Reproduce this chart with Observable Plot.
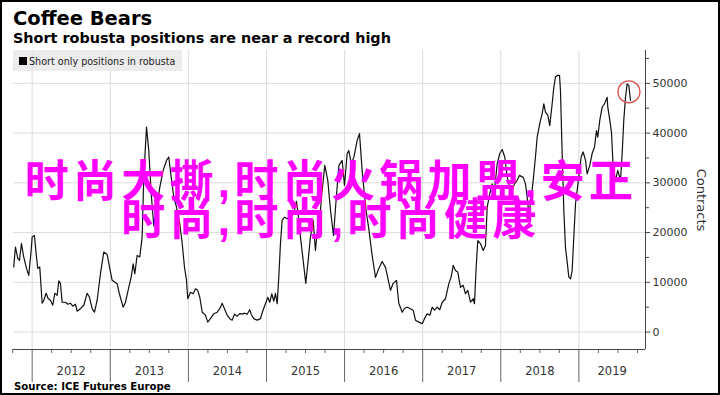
<!DOCTYPE html>
<html>
<head>
<meta charset="utf-8">
<script src="https://cdn.jsdelivr.net/npm/d3@7"></script>
<script src="https://cdn.jsdelivr.net/npm/@observablehq/plot@0.6"></script>
<style>
  html, body { margin: 0; padding: 0; background: #fff; }
  #wrap { position: relative; width: 720px; height: 395px; overflow: hidden; background: #fff; }
  #wrap .ov { position: absolute; white-space: nowrap; z-index: 5; }
  .title { left: 13px; top: 8.5px; font: bold 19.5px/1 "DejaVu Sans", Verdana, sans-serif; color: #000; }
  .subtitle { left: 13px; top: 30.8px; font: bold 14.4px/1 "DejaVu Sans", Verdana, sans-serif; color: #000; }
  .legend { left: 13px; top: 50px; width: 169px; height: 21px; background: rgba(230,230,230,0.75); }
  .legend .sw { position: absolute; left: 6px; top: 7px; width: 8px; height: 8px; background: #000; }
  .legend .lt { position: absolute; left: 16px; top: 7px; font: 9.6px/1 "DejaVu Sans", Verdana, sans-serif; color: #222; }
  .source { left: 14px; top: 382px; font: bold 10.2px/1 "DejaVu Sans", Verdana, sans-serif; color: #000; }
  .ylabel { left: 661px; top: 192px; width: 80px; height: 16px; text-align: center; font: 13px/16px "DejaVu Sans", Verdana, sans-serif; color: #333; transform: rotate(90deg); }
  .wm { left: 0px; width: 662px; text-align: center; font: bold 44px/38px "Liberation Sans", "Noto Sans CJK SC", sans-serif; letter-spacing: 4.3px; color: #ff00ff; z-index: 6; }
  .border { left: 0; top: 0; width: 720px; height: 395px; box-sizing: border-box; border: 2px solid #000; z-index: 10; }
</style>
</head>
<body>
<div id="wrap"></div>
<script>
// ---- Data (decimal year, short-only robusta contracts) ----
const dates = [
  2011.764, 2011.786, 2011.816, 2011.837, 2011.863, 2011.892, 2011.927, 2011.956, 2011.987, 2012.000,
  2012.029, 2012.055, 2012.072, 2012.097, 2012.128, 2012.149, 2012.179, 2012.205, 2012.234, 2012.264,
  2012.289, 2012.320, 2012.341, 2012.362, 2012.384, 2012.426, 2012.456, 2012.490, 2012.520, 2012.554,
  2012.576, 2012.618, 2012.661, 2012.704, 2012.734, 2012.768, 2012.798, 2012.832, 2012.875, 2012.917,
  2012.960, 2012.990, 2013.024, 2013.088, 2013.122, 2013.165, 2013.195, 2013.237, 2013.268, 2013.293,
  2013.314, 2013.344, 2013.378, 2013.408, 2013.429, 2013.464, 2013.493, 2013.524, 2013.557, 2013.592,
  2013.634, 2013.677, 2013.720, 2013.749, 2013.780, 2013.813, 2013.848, 2013.890, 2013.921, 2013.950,
  2013.976, 2013.992, 2014.027, 2014.061, 2014.091, 2014.120, 2014.146, 2014.177, 2014.219, 2014.248,
  2014.283, 2014.325, 2014.369, 2014.402, 2014.433, 2014.462, 2014.497, 2014.530, 2014.561, 2014.590,
  2014.625, 2014.658, 2014.689, 2014.722, 2014.753, 2014.786, 2014.804, 2014.837, 2014.881, 2014.923,
  2014.958, 2014.987, 2015.017, 2015.042, 2015.068, 2015.094, 2015.115, 2015.137, 2015.158, 2015.179,
  2015.201, 2015.231, 2015.265, 2015.307, 2015.350, 2015.384, 2015.410, 2015.435, 2015.470, 2015.503,
  2015.534, 2015.563, 2015.598, 2015.627, 2015.657, 2015.691, 2015.713, 2015.747, 2015.785, 2015.820,
  2015.858, 2015.896, 2015.928, 2015.969, 2015.999, 2016.033, 2016.054, 2016.085, 2016.118, 2016.161,
  2016.191, 2016.225, 2016.255, 2016.280, 2016.310, 2016.353, 2016.396, 2016.438, 2016.481, 2016.524,
  2016.566, 2016.588, 2016.622, 2016.665, 2016.694, 2016.738, 2016.767, 2016.802, 2016.831, 2016.878,
  2016.908, 2016.950, 2016.994, 2017.023, 2017.058, 2017.091, 2017.122, 2017.151, 2017.186, 2017.219,
  2017.250, 2017.292, 2017.334, 2017.365, 2017.391, 2017.420, 2017.449, 2017.484, 2017.519, 2017.548,
  2017.578, 2017.612, 2017.647, 2017.663, 2017.685, 2017.706, 2017.740, 2017.775, 2017.804, 2017.826,
  2017.859, 2017.890, 2017.919, 2017.954, 2017.987, 2018.018, 2018.051, 2018.082, 2018.115, 2018.146,
  2018.175, 2018.210, 2018.239, 2018.287, 2018.316, 2018.338, 2018.359, 2018.380, 2018.415, 2018.444,
  2018.466, 2018.499, 2018.530, 2018.551, 2018.572, 2018.602, 2018.627, 2018.658, 2018.679, 2018.700,
  2018.730, 2018.752, 2018.764, 2018.786, 2018.807, 2018.828, 2018.850, 2018.871, 2018.893, 2018.914,
  2018.935, 2018.957, 2018.999, 2019.029, 2019.055, 2019.085, 2019.106, 2019.140, 2019.170, 2019.200,
  2019.225, 2019.242, 2019.268, 2019.298, 2019.328, 2019.362, 2019.370, 2019.396, 2019.417, 2019.439,
  2019.469, 2019.498, 2019.533, 2019.554, 2019.575, 2019.597, 2019.618, 2019.639, 2019.661
];
const contracts = [
  13100, 17100, 14800, 14400, 17800, 15100, 12800, 11400, 16400, 19100,
  19400, 15100, 12800, 13100, 5800, 6400, 7800, 6700, 6400, 5400,
  7800, 7400, 10300, 9800, 6000, 6000, 5600, 5800, 5200, 5600,
  4200, 4700, 5400, 7800, 7000, 4700, 4000, 6400, 11800, 16100,
  15600, 13100, 10400, 9700, 7400, 5000, 6000, 9000, 11100, 13700,
  11700, 15400, 15100, 19100, 31200, 41200, 36500, 27800, 21400, 24500,
  29100, 32500, 34500, 35200, 31200, 27100, 25100, 21800, 17800, 13100,
  10400, 6700, 8000, 7700, 8700, 8400, 7000, 4000, 3400, 2000,
  2700, 3700, 4000, 4700, 5800, 4700, 3400, 2700, 2400, 3600,
  3200, 3700, 3600, 3800, 3600, 4500, 3600, 2700, 2400, 2700,
  4500, 5700, 7000, 6000, 7700, 6200, 7800, 5700, 11100, 17800,
  22500, 23100, 22800, 23100, 23800, 26300, 23100, 19100, 14400, 9800,
  14400, 19100, 22500, 16400, 21400, 24500, 28500, 33500, 30500, 24500,
  19400, 27500, 33500, 34500, 29500, 35900, 36500, 33900, 35100, 38500,
  39900, 32500, 27500, 23900, 20800, 15400, 11000, 12800, 14200, 13000,
  10000, 8400, 9800, 10400, 5800, 4000, 4800, 5000, 4800, 4400,
  2400, 2000, 1700, 2700, 3700, 3400, 5000, 4400, 5000, 4500,
  6000, 6700, 9700, 11100, 13400, 12400, 12100, 9000, 9400, 7700,
  8400, 6000, 6700, 5700, 13100, 18400, 17800, 16400, 17400, 25100,
  27800, 29800, 28500, 33800, 35900, 36700, 35200, 31200, 29100, 28500,
  29800, 30500, 31500, 31100, 29800, 27100, 23800, 25800, 30500, 35200,
  39200, 41900, 43900, 45900, 44200, 43600, 41500, 45900, 49200, 51300,
  51600, 51600, 48600, 35900, 24500, 17100, 14100, 11100, 10700, 12400,
  19100, 25800, 31200, 35200, 36200, 34500, 31800, 33500, 35900, 37200,
  40500, 39200, 42600, 45200, 45900, 47200, 45200, 42600, 40200, 33200,
  30500, 32500, 30500, 35900, 42600, 47200, 49900, 49600, 46600
];
const yearLabels = [2012, 2013, 2014, 2015, 2016, 2017, 2018, 2019];
const yTicks = [0, 10000, 20000, 30000, 40000, 50000];
const yMinorTicks = [5000, 15000, 25000, 35000, 45000, 55000];
const highlightDate = [2019.641];
const highlightValue = [48300];

const titleText = "Coffee Bears";
const subtitleText = "Short robusta positions are near a record high";
const legendText = "Short only positions in robusta";
const sourceText = "Source: ICE Futures Europe";
const yAxisLabel = "Contracts";
const watermark = ["时尚大撕,时尚火锅加盟,安正", "时尚,时尚,时尚健康"];

// ---- Build ----
const xDomain = [2011.761, 2019.853];
const yDomain = [-3500, 56600];
const series = dates.map((t, i) => ({t, v: contracts[i]}));
const highlight = highlightDate.map((t, i) => ({t, v: highlightValue[i]}));
const boundaries = yearLabels.slice();
const quarters = [2011.75];
yearLabels.forEach(y => [0.25, 0.5, 0.75].forEach(q => { if (y + q < xDomain[1]) quarters.push(y + q); }));
const labelPos = yearLabels.map(y => (y + Math.min(y + 1, xDomain[1])) / 2);

const plot = Plot.plot({
  width: 720,
  height: 395,
  marginLeft: 13,
  marginRight: 75,
  marginTop: 50,
  marginBottom: 46,
  style: {fontFamily: "DejaVu Sans, Verdana, sans-serif", fontSize: "11px", color: "#333", background: "transparent"},
  x: {type: "linear", domain: xDomain, label: null},
  y: {domain: yDomain, label: null},
  marks: [
    Plot.gridX(boundaries, {stroke: "#dcdcdc", strokeOpacity: 1}),
    Plot.gridY(yTicks, {stroke: "#dcdcdc", strokeOpacity: 1}),
    Plot.axisX(boundaries, {tickSize: 33, tickFormat: () => "", stroke: "#666", label: null}),
    Plot.axisX(quarters, {tickSize: 4, tickFormat: () => "", stroke: "#666", label: null}),
    Plot.axisX(labelPos, {tickSize: 0, tickPadding: 17, fontSize: 11.5, fill: "#333",
      tickFormat: d => String(yearLabels[labelPos.indexOf(d)]), label: null}),
    Plot.axisY(yTicks, {anchor: "right", tickSize: 4, tickPadding: 3, fontSize: 11, fill: "#333",
      tickFormat: d3.format("d"), stroke: "#444", label: null}),
    Plot.axisY(yMinorTicks, {anchor: "right", tickSize: 3, tickFormat: () => "", stroke: "#444", label: null}),
    Plot.ruleY([yDomain[0]], {stroke: "#444", strokeWidth: 1}),
    Plot.ruleX([xDomain[1]], {stroke: "#444", strokeWidth: 1}),
    Plot.lineY(series, {x: "t", y: "v", stroke: "#111", strokeWidth: 1.2}),
    Plot.dot(highlight, {x: "t", y: "v", r: 11, stroke: "#d9534f", strokeWidth: 1.3})
  ]
});

const wrap = document.getElementById("wrap");
plot.style.position = "absolute";
plot.style.left = "0px";
plot.style.top = "0px";
wrap.appendChild(plot);

function ov(cls, text, css) {
  const d = document.createElement("div");
  d.className = "ov " + cls;
  if (text != null) d.textContent = text;
  if (css) Object.assign(d.style, css);
  wrap.appendChild(d);
  return d;
}
ov("title", titleText);
ov("subtitle", subtitleText);
const lg = ov("legend", null);
const sw = document.createElement("div"); sw.className = "sw"; lg.appendChild(sw);
const lt = document.createElement("div"); lt.className = "lt"; lt.textContent = legendText; lg.appendChild(lt);
ov("source", sourceText);
ov("ylabel", yAxisLabel);
ov("wm", watermark[0], {top: "162.7px"});
ov("wm", watermark[1], {top: "200.7px"});
ov("border", null);
</script>
</body>
</html>
